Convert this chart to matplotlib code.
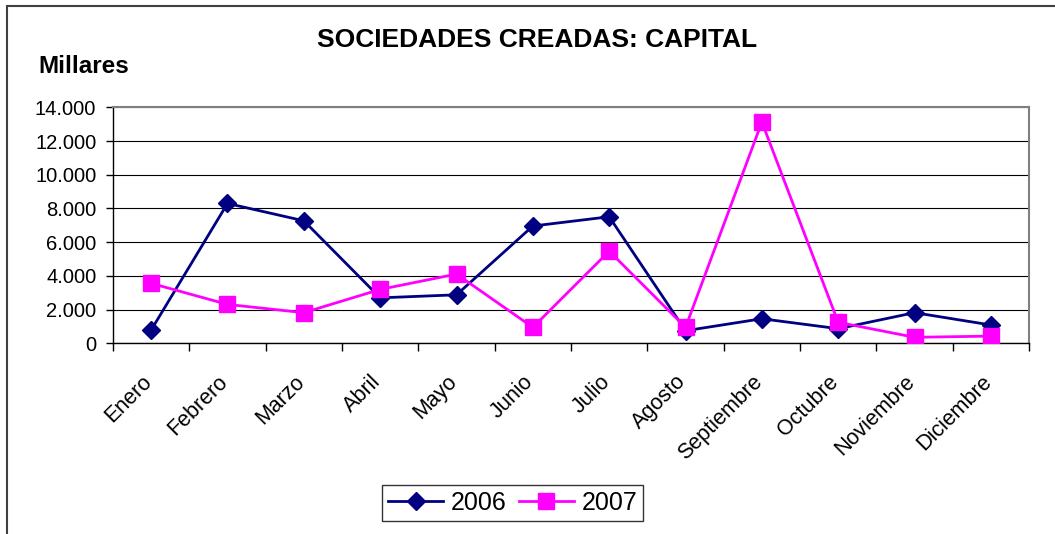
import numpy as np
import matplotlib
matplotlib.use("Agg")
import matplotlib.pyplot as plt
import matplotlib.transforms as mtransforms
from matplotlib.patches import Rectangle
from matplotlib.ticker import FuncFormatter

plt.rcParams['font.family'] = ['Liberation Sans', 'DejaVu Sans']

# datos (millares)
meses = ['Enero', 'Febrero', 'Marzo', 'Abril', 'Mayo', 'Junio', 'Julio',
         'Agosto', 'Septiembre', 'Octubre', 'Noviembre', 'Diciembre']
serie_2006 = [790, 8300, 7270, 2700, 2880, 6960, 7510, 750, 1460, 870, 1820, 1090]
serie_2007 = [3560, 2310, 1820, 3200, 4110, 950, 5470, 950, 13130, 1250, 360, 430]
yticks = [0, 2000, 4000, 6000, 8000, 10000, 12000, 14000]

fig = plt.figure(figsize=(10.55, 5.34), dpi=100)
ax = fig.add_axes([0.1071, 0.357, 0.8683, 0.442])

x = np.arange(len(meses))
ax.plot(x, serie_2006, color='#000080', lw=2, marker='D', ms=9.5, label='2006', zorder=3)
ax.plot(x, serie_2007, color='#FF00FF', lw=2, marker='s', ms=11, label='2007', zorder=3)

ax.set_xlim(-0.5, len(meses) - 0.5)
ax.set_ylim(0, 14000)
ax.set_yticks(yticks)
ax.yaxis.set_major_formatter(FuncFormatter(lambda v, p: f'{int(v):,}'.replace(',', '.')))
ax.grid(axis='y', color='black', lw=0.8)
ax.set_axisbelow(True)

# ticks en los limites de categoria, etiquetas en el centro
ax.set_xticks(np.arange(-0.5, len(meses)), minor=False)
ax.set_xticklabels([])
ax.set_xticks(x, minor=True)
ax.set_xticklabels(meses, minor=True, rotation=45, ha='right', rotation_mode='anchor', fontsize=15.5)
ax.tick_params(axis='x', which='minor', length=0, pad=20)
ax.tick_params(axis='x', which='major', length=6, width=1, direction='out')
ax.tick_params(axis='y', length=5, width=1, labelsize=14.5, pad=7)
desplaza = mtransforms.ScaledTranslation(-10 / 100, 0, fig.dpi_scale_trans)
for lab in ax.get_xticklabels(minor=True):
    lab.set_transform(lab.get_transform() + desplaza)

for s in ['top', 'right']:
    ax.spines[s].set_color('#808080')
    ax.spines[s].set_linewidth(1.5)
for s in ['left', 'bottom']:
    ax.spines[s].set_color('black')
    ax.spines[s].set_linewidth(1)

fig.text(0.509, 0.925, 'SOCIEDADES CREADAS: CAPITAL', ha='center', va='center',
         fontsize=19, fontweight='bold')
fig.text(0.036, 0.876, 'Millares', ha='left', va='center', fontsize=17.5, fontweight='bold')

leg = fig.legend(loc='center', bbox_to_anchor=(0.486, 0.058), ncol=2, fontsize=18,
                 frameon=True, fancybox=False, edgecolor='black', handlelength=2.2,
                 columnspacing=0.5, handletextpad=0.3, borderpad=0.25)
leg.get_frame().set_linewidth(1)

fig.patches.append(Rectangle((0.0066, -0.1), 1.2, 1.089, transform=fig.transFigure,
                             fill=False, edgecolor='#404040', lw=1.5))

fig.savefig('out.png', dpi=100)
